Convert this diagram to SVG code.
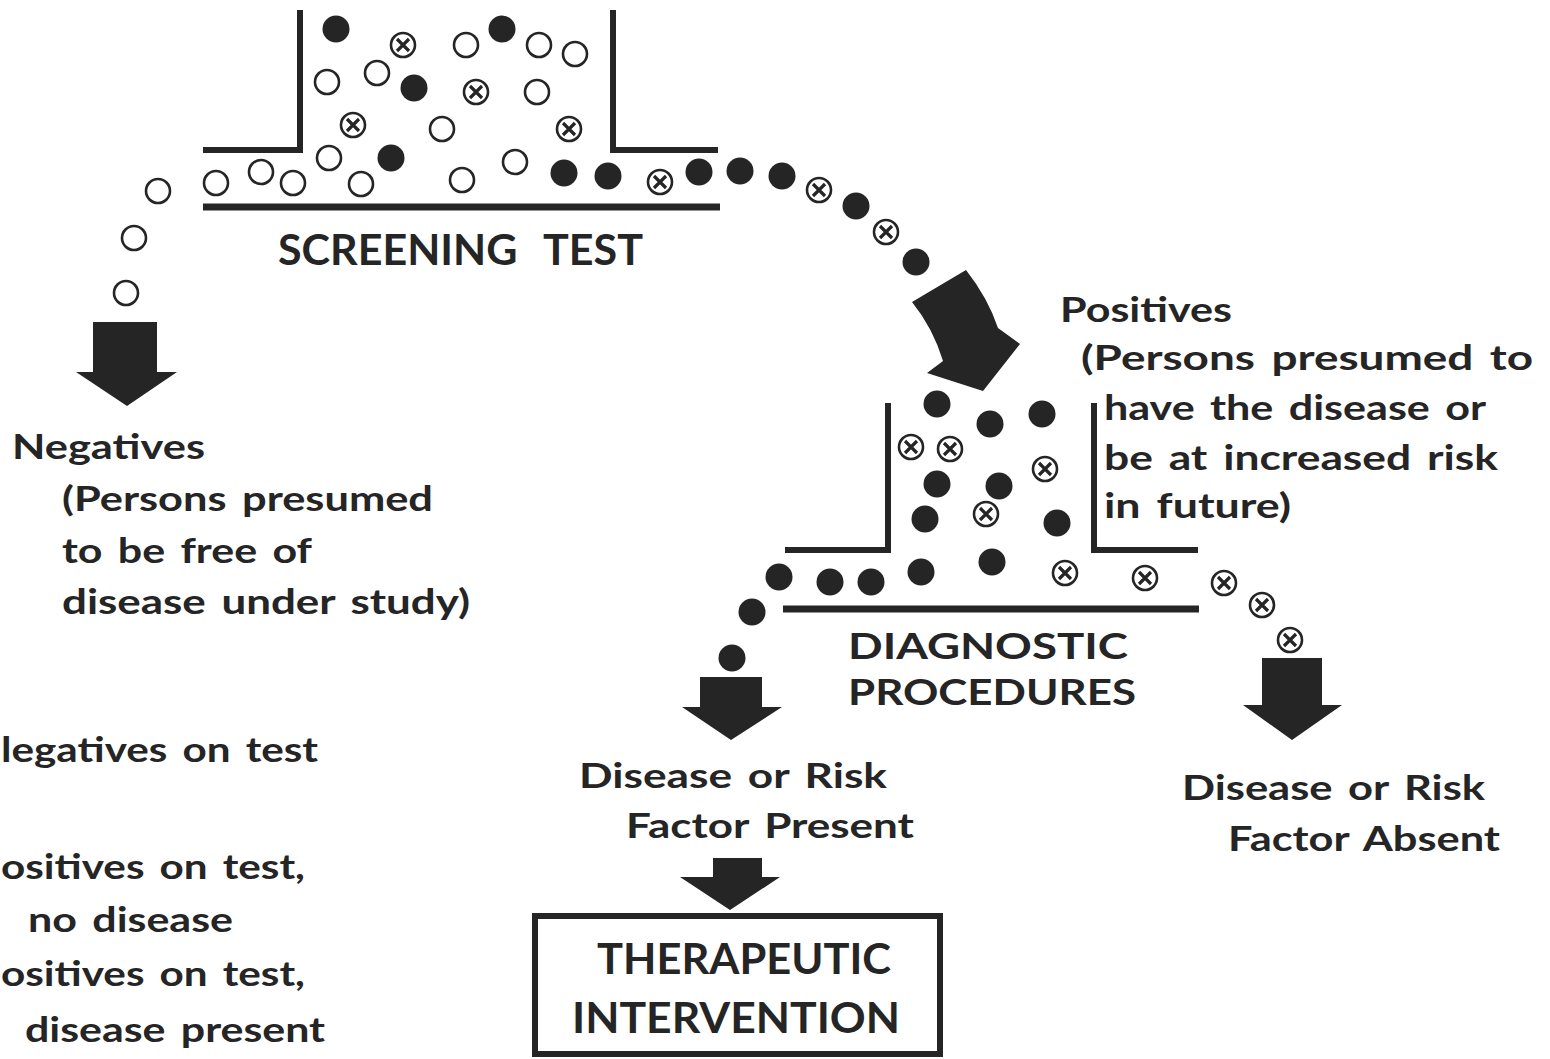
<svg xmlns="http://www.w3.org/2000/svg" width="1550" height="1059" viewBox="0 0 1550 1059">
<style>
  .ink{fill:#252525}
  .bar{stroke:#252525;stroke-linecap:butt;fill:none}
  .t{font-family:Lato,"Open Sans","Liberation Sans",sans-serif;font-weight:700;fill:#252525;font-size:35px;word-spacing:4px}
  .cap{font-size:42px}
  .box{fill:none;stroke:#252525;stroke-width:6}
</style>
<defs>
  <g id="o"><circle r="12" fill="#fff" stroke="#252525" stroke-width="2.6"/></g>
  <g id="f"><circle r="13.5" fill="#252525"/></g>
  <g id="x"><circle r="12" fill="#fff" stroke="#252525" stroke-width="2.6"/><path d="M-6,-6L6,6M6,-6L-6,6" stroke="#252525" stroke-width="3.2"/></g>
</defs>
<rect width="1550" height="1059" fill="#fff"/>

<g id="screening-test">
  <path class="bar" stroke-width="6" d="M203,150H300V10M613,10V150H718"/>
  <path class="bar" stroke-width="7" d="M203,207H720"/>
  <text class="t cap" style="word-spacing:16px" x="278" y="265" textLength="365" lengthAdjust="spacingAndGlyphs">SCREENING TEST</text>
  <g id="screening-persons">
    <use href="#f" x="336" y="29"/><use href="#x" x="403" y="45"/><use href="#o" x="466" y="45"/>
    <use href="#f" x="502" y="29"/><use href="#o" x="539" y="45"/><use href="#o" x="575" y="54"/>
    <use href="#o" x="327" y="82"/><use href="#o" x="377" y="73"/><use href="#f" x="414" y="88"/>
    <use href="#x" x="476" y="92"/><use href="#o" x="537" y="92"/>
    <use href="#x" x="353" y="125"/><use href="#o" x="442" y="129"/><use href="#x" x="569" y="129"/>
    <use href="#o" x="329" y="158"/><use href="#f" x="391" y="158"/><use href="#o" x="515" y="162"/>
    <use href="#o" x="216" y="183"/><use href="#o" x="261" y="172"/><use href="#o" x="293" y="183"/>
    <use href="#o" x="361" y="184"/><use href="#o" x="462" y="180"/>
    <use href="#f" x="564" y="173"/><use href="#f" x="608" y="176"/><use href="#x" x="660" y="182"/>
  </g>
</g>

<g id="negatives">
  <text class="t" x="12" y="459" textLength="193" lengthAdjust="spacingAndGlyphs">Negatives</text>
  <text class="t" x="62" y="511" textLength="371" lengthAdjust="spacingAndGlyphs">(Persons presumed</text>
  <text class="t" x="62" y="563" textLength="250" lengthAdjust="spacingAndGlyphs">to be free of</text>
  <text class="t" x="62" y="614" textLength="408" lengthAdjust="spacingAndGlyphs">disease under study)</text>
</g>

<g id="positives">
  <text class="t" x="1060" y="322" textLength="172" lengthAdjust="spacingAndGlyphs">Positives</text>
  <text class="t" x="1081" y="370" textLength="452" lengthAdjust="spacingAndGlyphs">(Persons presumed to</text>
  <text class="t" x="1104" y="420" textLength="382" lengthAdjust="spacingAndGlyphs">have the disease or</text>
  <text class="t" x="1104" y="470" textLength="394" lengthAdjust="spacingAndGlyphs">be at increased risk</text>
  <text class="t" x="1104" y="518" textLength="187" lengthAdjust="spacingAndGlyphs">in future)</text>
</g>

<g id="diagnostic-procedures">
  <path class="bar" stroke-width="6" d="M785,550H888V403M1094,403V550H1198"/>
  <path class="bar" stroke-width="7" d="M783,609H1199"/>
  <text class="t" style="font-size:37px" x="848" y="659" textLength="280" lengthAdjust="spacingAndGlyphs">DIAGNOSTIC</text>
  <text class="t" style="font-size:37px" x="848" y="705" textLength="288" lengthAdjust="spacingAndGlyphs">PROCEDURES</text>
  <g id="diagnostic-persons">
    <use href="#f" x="937" y="404"/><use href="#f" x="990" y="424"/><use href="#f" x="1042" y="414"/>
    <use href="#x" x="911" y="447"/><use href="#x" x="950" y="449"/><use href="#x" x="1045" y="469"/>
    <use href="#f" x="937" y="484"/><use href="#f" x="999" y="486"/><use href="#x" x="986" y="514"/>
    <use href="#f" x="925" y="519"/><use href="#f" x="1057" y="523"/>
    <use href="#f" x="992" y="562"/><use href="#f" x="921" y="572"/><use href="#x" x="1065" y="573"/>
    <use href="#x" x="1145" y="578"/><use href="#f" x="871" y="582"/><use href="#f" x="830" y="582"/>
    <use href="#f" x="779" y="577"/>
  </g>
</g>

<g id="present">
  <text class="t" x="579" y="788" textLength="308" lengthAdjust="spacingAndGlyphs">Disease or Risk</text>
  <text class="t" x="626" y="838" textLength="288" lengthAdjust="spacingAndGlyphs">Factor Present</text>
</g>

<g id="absent">
  <text class="t" x="1182" y="800" textLength="303" lengthAdjust="spacingAndGlyphs">Disease or Risk</text>
  <text class="t" x="1228" y="851" textLength="272" lengthAdjust="spacingAndGlyphs">Factor Absent</text>
</g>

<g id="therapeutic-intervention">
  <rect class="box" x="535" y="916" width="405" height="138"/>
  <text class="t cap" x="597" y="974" textLength="294" lengthAdjust="spacingAndGlyphs">THERAPEUTIC</text>
  <text class="t cap" x="572" y="1033" textLength="328" lengthAdjust="spacingAndGlyphs">INTERVENTION</text>
</g>

<g id="legend">
  <text class="t" x="1" y="762" textLength="317" lengthAdjust="spacingAndGlyphs">legatives on test</text>
  <text class="t" x="1" y="879" textLength="304" lengthAdjust="spacingAndGlyphs">ositives on test,</text>
  <text class="t" x="28" y="932" textLength="205" lengthAdjust="spacingAndGlyphs">no disease</text>
  <text class="t" x="1" y="986" textLength="304" lengthAdjust="spacingAndGlyphs">ositives on test,</text>
  <text class="t" x="25" y="1042" textLength="300" lengthAdjust="spacingAndGlyphs">disease present</text>
</g>

<g id="connectors">
  <g id="trail-negatives">
    <use href="#o" x="158" y="191"/><use href="#o" x="134" y="238"/><use href="#o" x="126" y="293"/>
  </g>
  <g id="trail-positives">
    <use href="#f" x="699" y="172"/><use href="#f" x="740" y="171"/><use href="#f" x="782" y="176"/>
    <use href="#x" x="819" y="190"/><use href="#f" x="856" y="206"/><use href="#x" x="886" y="232"/>
    <use href="#f" x="916" y="262"/>
  </g>
  <g id="trail-present">
    <use href="#f" x="752" y="612"/><use href="#f" x="732" y="658"/>
  </g>
  <g id="trail-absent">
    <use href="#x" x="1224" y="583"/><use href="#x" x="1262" y="605"/><use href="#x" x="1290" y="640"/>
  </g>
  <path class="ink" d="M93,322H157V372H177L127,406L76,372H93Z"/>
  <path class="ink" d="M912,302L966,270Q988,298 998,328L1020,344L983,391L927,373L943,361Q933,328 912,302Z"/>
  <path class="ink" d="M700,677H762V707H782L731,740L682,707H700Z"/>
  <path class="ink" d="M1262,658H1322V705H1342L1292,740L1243,705H1262Z"/>
  <path class="ink" d="M713,858H762V877H780L730,910L680,877H713Z"/>
</g>
</svg>
